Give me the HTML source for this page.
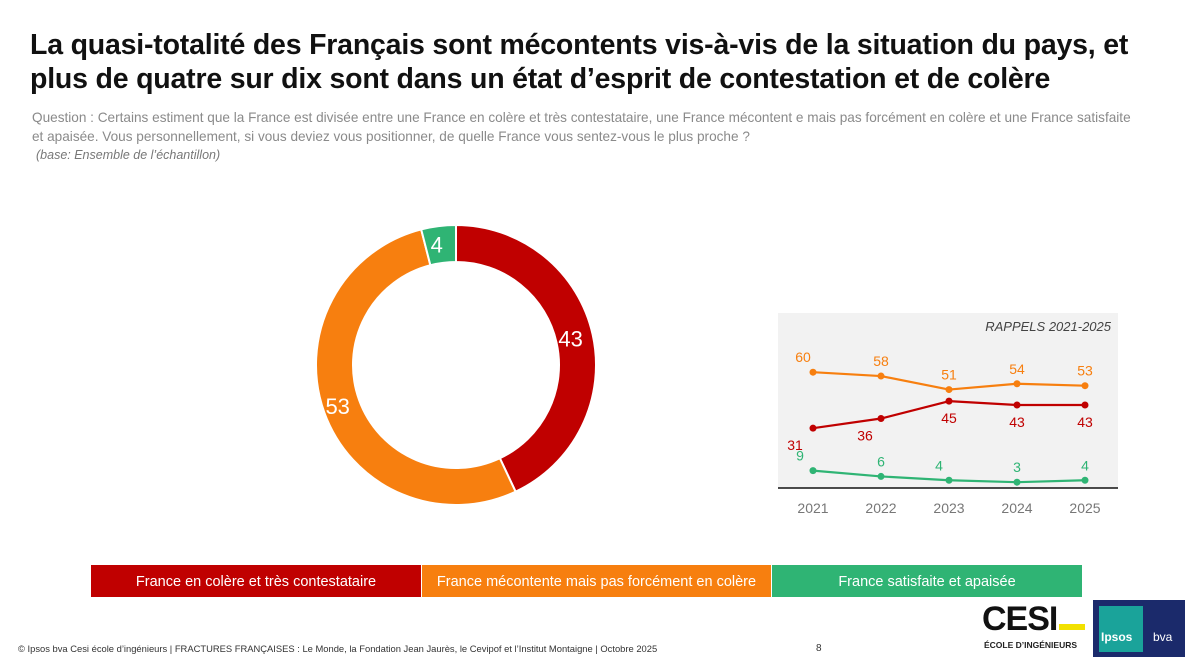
<!DOCTYPE html>
<html><head><meta charset="utf-8"><style>
body{margin:0;width:1200px;height:671px;background:#fff;font-family:"Liberation Sans",sans-serif;position:relative;overflow:hidden}
.t{position:absolute;left:30px;top:28px;font-size:28.5px;font-weight:bold;color:#111;line-height:34px;letter-spacing:-0.2px;white-space:nowrap}
.q{position:absolute;left:32px;top:108px;font-size:13.6px;color:#8a8a8a;line-height:19px;width:1100px}
.b{position:absolute;left:36px;top:148px;font-size:12.5px;color:#777;font-style:italic}
.leg{position:absolute;top:565px;height:32px;color:#fff;font-size:14.5px;line-height:34px;text-align:center}
.f{position:absolute;left:18px;top:643px;font-size:9.4px;color:#333;white-space:nowrap}
</style></head><body>
<div class="t">La quasi-totalité des Français sont mécontents vis-à-vis de la situation du pays, et<br>plus de quatre sur dix sont dans un état d’esprit de contestation et de colère</div>
<div class="q">Question : Certains estiment que la France est divisée entre une France en colère et très contestataire, une France mécontent e mais pas forcément en colère et une France satisfaite et apaisée. Vous personnellement, si vous deviez vous positionner, de quelle France vous sentez-vous le plus proche ?</div>
<div class="b">(base: Ensemble de l’échantillon)</div>
<svg id="donut" width="1200" height="671" style="position:absolute;left:0;top:0"></svg>
<div class="leg" style="left:91px;width:330px;background:#c00000">France en colère et très contestataire</div>
<div class="leg" style="left:422px;width:349px;background:#f77f0f">France mécontente mais pas forcément en colère</div>
<div class="leg" style="left:772px;width:310px;background:#2fb474">France satisfaite et apaisée</div>
<div class="f">© Ipsos bva Cesi école d’ingénieurs | FRACTURES FRANÇAISES : Le Monde, la Fondation Jean Jaurès, le Cevipof et l’Institut Montaigne | Octobre 2025</div>
<div style="position:absolute;left:816px;top:643px;font-size:10px;color:#333">8</div>
<div style="position:absolute;left:982px;top:600px;font-size:34px;font-weight:bold;color:#111;letter-spacing:-1px">CESI<span style="display:inline-block;width:26px;height:6px;background:#f2e100;margin-left:2px"></span></div>
<div style="position:absolute;left:984px;top:640px;font-size:8.5px;font-weight:bold;color:#222">ÉCOLE D’INGÉNIEURS</div>
<div style="position:absolute;left:1093px;top:600px;width:92px;height:57px;background:#1b2a6b">
<div style="position:absolute;left:6px;top:6px;width:44px;height:46px;background:#1aa39a"></div>
<div style="position:absolute;left:8px;top:30px;color:#fff;font-size:12px;font-weight:bold">Ipsos</div>
<div style="position:absolute;left:60px;top:30px;color:#fff;font-size:12px">bva</div></div>
<script>
const donutLabels=["colere","mecontente","satisfaite"];
const donutValues=[43,53,4];
const donutColors=["#c00000","#f77f0f","#2fb474"];
const years=["2021","2022","2023","2024","2025"];
const colere=[31,36,45,43,43];
const mecontente=[60,58,51,54,53];
const satisfaite=[9,6,4,3,4];
const NS="http://www.w3.org/2000/svg";
const svg=document.getElementById('donut');
function mk(t,a,p){const e=document.createElementNS(NS,t);for(const k in a)e.setAttribute(k,a[k]);(p||svg).appendChild(e);return e;}
const cx=456,cy=365,R=140,r=103;
let tot=donutValues.reduce((a,b)=>a+b,0),acc=0;
donutValues.forEach((v,i)=>{
 const a0=acc/tot*2*Math.PI,a1=(acc+v)/tot*2*Math.PI;acc+=v;
 const P=(rad,a)=>[cx+rad*Math.sin(a),cy-rad*Math.cos(a)];
 const [x0,y0]=P(R,a0),[x1,y1]=P(R,a1),[x2,y2]=P(r,a1),[x3,y3]=P(r,a0);
 const lg=(a1-a0)>Math.PI?1:0;
 const p=mk('path',{d:`M${x0},${y0}A${R},${R} 0 ${lg} 1 ${x1},${y1}L${x2},${y2}A${r},${r} 0 ${lg} 0 ${x3},${y3}Z`,fill:donutColors[i],stroke:'#fff','stroke-width':2});
 
 
 const am=(a0+a1)/2,[lx,ly]=P((R+r)/2,am);
 const t=mk('text',{x:lx-4,y:ly+8,'text-anchor':'middle','font-size':22,fill:'#fff','font-family':'Liberation Sans'});
 t.textContent=v;
 
 
});
const px=778,py=313,pw=340,ph=175;
const bg=mk('rect',{x:px,y:py,width:pw,height:ph,fill:'#f2f2f2'});


mk('line',{x1:px,y1:488,x2:px+pw,y2:488,stroke:'#111','stroke-width':1.5});
const tt=mk('text',{x:1111,y:331,'text-anchor':'end','font-size':13,'font-style':'italic',fill:'#444'});
tt.textContent='RAPPELS 2021-2025';


const xS=i=>813+i*68;
const yS=v=>488-1.93*v;
years.forEach((y,i)=>{const t=mk('text',{x:xS(i),y:513,'text-anchor':'middle','font-size':14,fill:'#777'});t.textContent=y;
 
 });
function series(vals,col,name,above,offs){
 let d='';vals.forEach((v,i)=>{d+=(i?'L':'M')+xS(i)+','+yS(v);});
 const l=mk('path',{d,fill:'none',stroke:col,'stroke-width':2.2,'stroke-linejoin':'round'});
 
 
 vals.forEach((v,i)=>{
  const c=mk('circle',{cx:xS(i),cy:yS(v),r:3.5,fill:col});
  
  
  const t=mk('text',{x:xS(i)+(offs?offs[i]:0),y:yS(v)+(above?-10:22),'text-anchor':'middle','font-size':14,fill:col});
  t.textContent=v;
  
  
 });
}
series(mecontente,'#f77f0f','mecontente',true,[-10,0,0,0,0]);
series(colere,'#c00000','colere',false,[-18,-16,0,0,0]);
series(satisfaite,'#2fb474','satisfaite',true,[-13,0,-10,0,0]);
</script>
</body></html>
